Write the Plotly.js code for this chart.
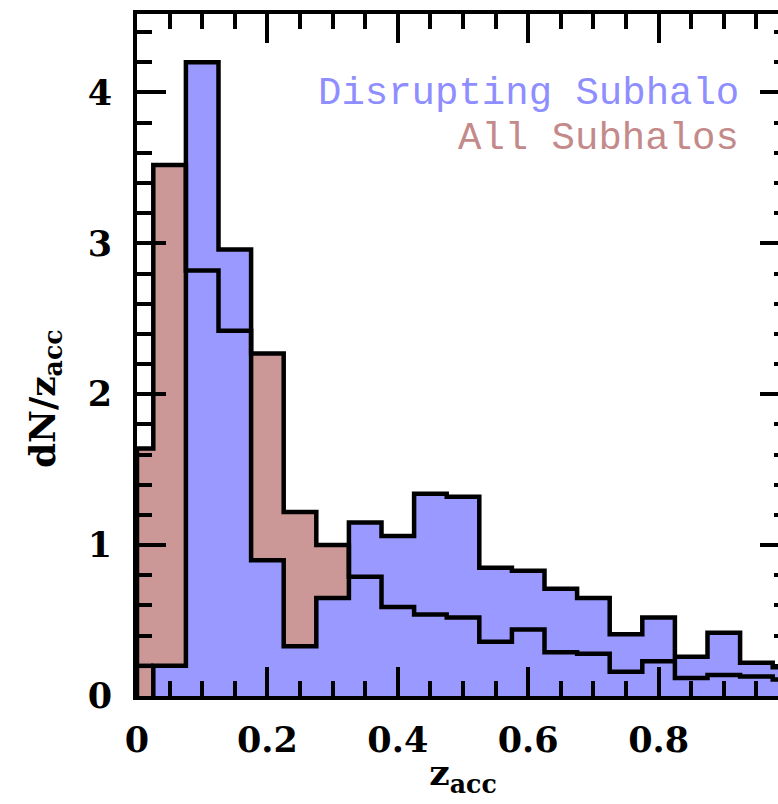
<!DOCTYPE html>
<html>
<head>
<meta charset="utf-8">
<script src="https://cdn.plot.ly/plotly-3.0.1.min.js"></script>
<style>
  html, body { margin: 0; padding: 0; overflow: hidden; background: #ffffff; }
  #chart { width: 800px; height: 804px; }
</style>
</head>
<body>
<div id="chart"></div>
<script>
// Bin edges of z_acc (first and last bins are half-width)
const binEdges = [0, 0.025, 0.075, 0.125, 0.175, 0.225, 0.275, 0.325, 0.375, 0.425, 0.475,
                  0.525, 0.575, 0.625, 0.675, 0.725, 0.775, 0.825, 0.875, 0.925, 0.975, 1.0];

// dN/dz_acc for all subhalos (red)
const allSubhalos = [1.64, 3.52, 2.82, 2.42, 2.27, 1.22, 1.00, 0.79, 0.59, 0.54, 0.52,
                     0.36, 0.44, 0.29, 0.28, 0.16, 0.23, 0.12, 0.14, 0.13, 0.11];

// dN/dz_acc for disrupting subhalos (blue)
const disrupting = [0.20, 0.20, 4.20, 2.96, 0.90, 0.33, 0.65, 1.15, 1.06, 1.34, 1.32,
                    0.85, 0.83, 0.71, 0.65, 0.41, 0.52, 0.26, 0.42, 0.22, 0.19];

const xTickVals = [0, 0.2, 0.4, 0.6, 0.8];
const xTickText = ['0', '0.2', '0.4', '0.6', '0.8'];
const yTickVals = [0, 1, 2, 3, 4];
const yTickText = ['0', '1', '2', '3', '4'];

const seriesNames = ['Disrupting Subhalo', 'All Subhalos'];
const xTitle = 'z<sub>acc</sub>';
const yTitle = 'dN/z<sub>acc</sub>';

const blueFill = '#9999ff';
const redFill = '#cc9797';
const blueText = '#8e8eff';
const redText = '#c48a8a';

function stepPolygon(edges, vals, start) {
  const xs = [edges[start]], ys = [0];
  for (let i = start; i < vals.length; i++) {
    xs.push(edges[i], edges[i + 1]);
    ys.push(vals[i], vals[i]);
  }
  xs.push(edges[vals.length]); ys.push(0);
  return {x: xs, y: ys};
}

const redPoly = stepPolygon(binEdges, allSubhalos, 0);
const bluePoly = stepPolygon(binEdges, disrupting, 1);
// blue outline: polygon plus the leading half-bin segment
const blueOutline = {
  x: bluePoly.x.concat([null, binEdges[0], binEdges[1]]),
  y: bluePoly.y.concat([null, disrupting[0], disrupting[0]])
};

const traces = [
  {x: redPoly.x, y: redPoly.y, type: 'scatter', mode: 'lines', fill: 'toself',
   fillcolor: redFill, line: {width: 0, color: redFill}, hoverinfo: 'skip', showlegend: false},
  {x: bluePoly.x, y: bluePoly.y, type: 'scatter', mode: 'lines', fill: 'toself',
   fillcolor: blueFill, line: {width: 0, color: blueFill}, hoverinfo: 'skip', showlegend: false},
  {x: redPoly.x, y: redPoly.y, type: 'scatter', mode: 'lines', name: seriesNames[1],
   line: {width: 4.5, color: '#000000'}, showlegend: false},
  {x: blueOutline.x, y: blueOutline.y, type: 'scatter', mode: 'lines', name: seriesNames[0],
   connectgaps: false, line: {width: 4.5, color: '#000000'}, showlegend: false}
];

const tickFont = {family: 'DejaVu Serif', size: 35, weight: 'bold', color: '#000000'};
const titleFont = {family: 'DejaVu Serif', size: 36, weight: 'bold', color: '#000000'};

const layout = {
  width: 800, height: 804,
  margin: {l: 137, r: 11, t: 14, b: 108},
  paper_bgcolor: '#ffffff', plot_bgcolor: '#ffffff',
  showlegend: false,
  xaxis: {
    range: [0, 1], tickvals: xTickVals, ticktext: xTickText,
    ticks: 'inside', ticklen: 29, tickwidth: 4, tickcolor: '#000000',
    minor: {dtick: 0.05, tick0: 0, ticks: 'inside', ticklen: 15, tickwidth: 4, tickcolor: '#000000', showgrid: false},
    showline: true, linewidth: 4, linecolor: '#000000', mirror: 'allticks',
    showgrid: false, zeroline: false,
    tickfont: tickFont, ticklabelstandoff: 10,
    title: {text: xTitle, font: titleFont, standoff: 2}
  },
  yaxis: {
    range: [0, 4.52], tickvals: yTickVals, ticktext: yTickText,
    ticks: 'inside', ticklen: 29, tickwidth: 4, tickcolor: '#000000',
    minor: {dtick: 0.2, tick0: 0, ticks: 'inside', ticklen: 15, tickwidth: 4, tickcolor: '#000000', showgrid: false},
    showline: true, linewidth: 4, linecolor: '#000000', mirror: 'allticks',
    showgrid: false, zeroline: false,
    tickfont: tickFont, ticklabelstandoff: 14
  },
  annotations: [
    {x: -0.142, y: 0.436, xref: 'paper', yref: 'paper', xanchor: 'center', yanchor: 'middle',
     text: yTitle, textangle: -90, showarrow: false, font: titleFont},
    {x: 0.926, y: 3.99, xref: 'x', yref: 'y', xanchor: 'right', yanchor: 'middle',
     text: seriesNames[0], showarrow: false,
     font: {family: 'Liberation Mono', size: 39, color: blueText}},
    {x: 0.926, y: 3.69, xref: 'x', yref: 'y', xanchor: 'right', yanchor: 'middle',
     text: seriesNames[1], showarrow: false,
     font: {family: 'Liberation Mono', size: 39, color: redText}}
  ]
};

Plotly.newPlot('chart', traces, layout, {displayModeBar: false, staticPlot: true});
</script>
</body>
</html>
